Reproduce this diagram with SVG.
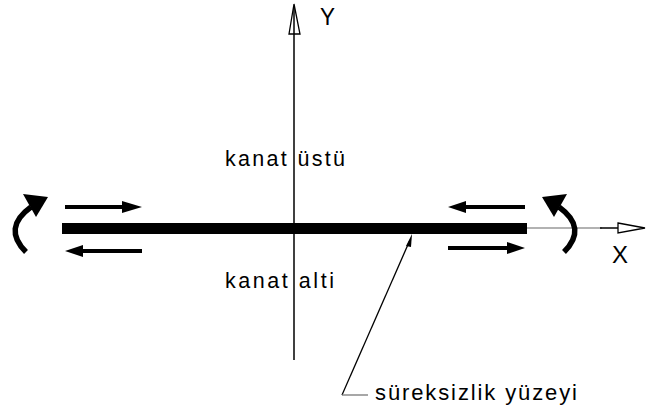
<svg xmlns="http://www.w3.org/2000/svg" width="646" height="413" viewBox="0 0 646 413">
<style>
.t{font-family:"Liberation Sans",Arial,sans-serif;fill:#000;}
.ax{stroke:#000;stroke-width:1.5;fill:none;}
.arr{stroke:#000;stroke-width:4;fill:none;}
.hd{fill:#000;stroke:none;}
.cur{stroke:#000;stroke-width:5.5;fill:none;stroke-linecap:butt;}
</style>
<rect width="646" height="413" fill="#fff"/>
<g id="axes">
  <line class="ax" x1="294" y1="6" x2="294" y2="360"/>
  <polygon points="294,4 289,34 300,34" fill="#fff" stroke="#000" stroke-width="1.3"/>
  <line class="ax" x1="294" y1="6" x2="294" y2="34"/>
  <line x1="527" y1="228" x2="602" y2="228" stroke="#999" stroke-width="1.5"/>
  <line x1="600" y1="228" x2="618" y2="228" stroke="#000" stroke-width="1.5"/>
  <polygon points="618,223 645,228 618,233" fill="#fff" stroke="#000" stroke-width="1.3"/>
  <text class="t" x="320" y="25" font-size="23" textLength="15" lengthAdjust="spacingAndGlyphs">Y</text>
  <text class="t" x="612" y="263" font-size="24" textLength="16" lengthAdjust="spacingAndGlyphs">X</text>
</g>
<g id="bar">
  <rect x="62" y="223" width="465" height="11" fill="#000"/>
</g>
<g id="labels">
  <text class="t" x="225" y="166" font-size="21.5" textLength="120" lengthAdjust="spacing">kanat üstü</text>
  <text class="t" x="225" y="288" font-size="21.5" textLength="109" lengthAdjust="spacing">kanat alti</text>
  <text class="t" x="375" y="400" font-size="22" textLength="202" lengthAdjust="spacing">süreksizlik yüzeyi</text>
</g>
<g id="connectors">
  <line class="arr" x1="65" y1="207" x2="124" y2="207"/>
  <polygon class="hd" points="142,207 122,201 122,213"/>
  <line class="arr" x1="142" y1="251" x2="80" y2="251"/>
  <polygon class="hd" points="65,251 83,245 83,257"/>
  <line class="arr" x1="525" y1="207" x2="464" y2="207"/>
  <polygon class="hd" points="448,207 466,201 466,213"/>
  <line class="arr" x1="448" y1="248" x2="508" y2="248"/>
  <polygon class="hd" points="525,248 507,242 507,254"/>
  <path class="cur" d="M26,252 Q2,228 31,207"/>
  <polygon class="hd" points="48,197 23,194 36,217"/>
  <path class="cur" d="M564,252 Q588,228 559,207"/>
  <polygon class="hd" points="542,197 567,194 554,217"/>
  <line x1="410" y1="240" x2="342" y2="395" stroke="#000" stroke-width="1.3"/>
  <polygon class="hd" points="412,234 406,246 411,247"/>
  <line x1="342" y1="395" x2="368" y2="395" stroke="#777" stroke-width="1.3"/>
</g>
</svg>
